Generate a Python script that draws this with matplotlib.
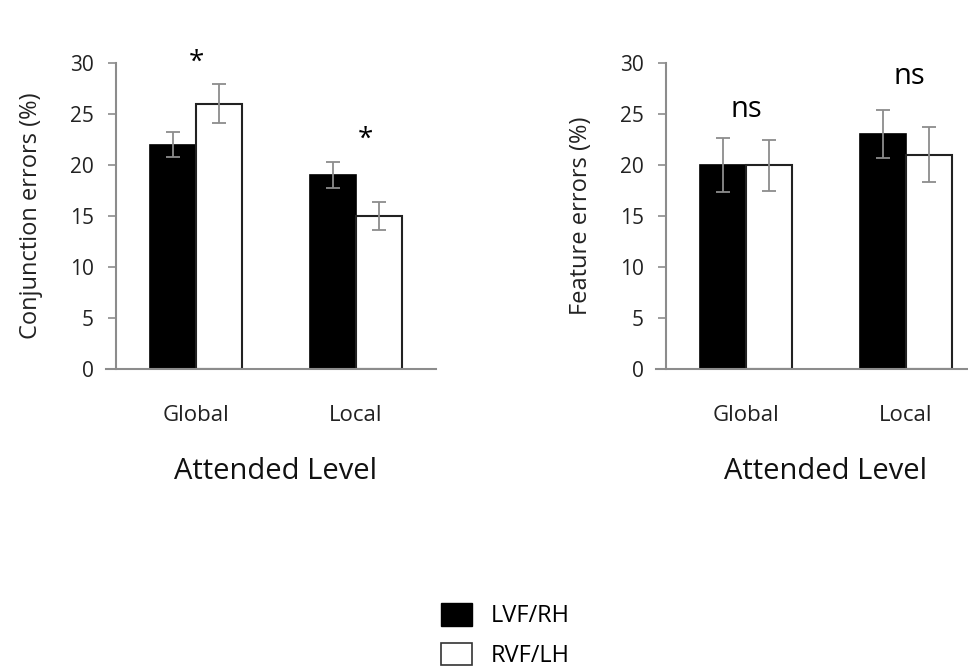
import matplotlib.pyplot as plt
import numpy as np
from matplotlib.patches import Patch

plt.rcParams['font.family'] = ['Open Sans', 'DejaVu Sans']

# data
levels = ['Global', 'Local']
series = ['LVF/RH', 'RVF/LH']

conj_lvf = [22, 19]
conj_rvf = [26, 15]
conj_lvf_err = [1.2, 1.3]
conj_rvf_err = [1.9, 1.4]

feat_lvf = [20, 23]
feat_rvf = [20, 21]
feat_lvf_err = [2.6, 2.35]
feat_rvf_err = [2.5, 2.7]

conj_marks = ['*', '*']
feat_marks = ['ns', 'ns']

W, H = 968, 666
fig = plt.figure(figsize=(W / 100, H / 100), dpi=100)

ax1 = fig.add_axes([116 / W, (H - 369) / H, 320 / W, 306 / H])
ax2 = fig.add_axes([666 / W, (H - 369) / H, 320 / W, 306 / H])

x = np.arange(len(levels))
width = 0.29
grey = '#8c8c8c'


def panel(ax, lvf, rvf, lvf_err, rvf_err, ylabel, marks, mark_y, mark_dx, mark_size):
    ax.bar(x - width / 2, lvf, width, color='black', edgecolor='black', linewidth=1.2)
    ax.bar(x + width / 2, rvf, width, color='white', edgecolor='#222222', linewidth=1.5)
    ax.errorbar(x - width / 2, lvf, yerr=lvf_err, fmt='none', ecolor=grey,
                elinewidth=1.3, capsize=5, capthick=1.3)
    ax.errorbar(x + width / 2, rvf, yerr=rvf_err, fmt='none', ecolor=grey,
                elinewidth=1.3, capsize=5, capthick=1.3)
    ax.set_xlim(-0.5, 1.5)
    ax.set_ylim(0, 30)
    ax.set_yticks(range(0, 31, 5))
    ax.set_xticks(x)
    ax.set_xticklabels(levels, fontsize=16, color='#222222')
    ax.tick_params(axis='x', length=0, pad=26)
    ax.tick_params(axis='y', length=6, width=1.2, color=grey, labelsize=15,
                   pad=10, labelcolor='#222222')
    for s in ['top', 'right']:
        ax.spines[s].set_visible(False)
    for s in ['left', 'bottom']:
        ax.spines[s].set_color(grey)
        ax.spines[s].set_linewidth(1.5)
    ax.spines['bottom'].set_bounds(-0.56, 1.5)
    ax.set_ylabel(ylabel, fontsize=17, labelpad=19, color='#222222')
    ax.set_xlabel('Attended Level', fontsize=21, labelpad=22, color='#111111')
    for i, m in enumerate(marks):
        ax.text(x[i] + mark_dx[i], mark_y[i], m, ha='center', va='center',
                fontsize=mark_size)


panel(ax1, conj_lvf, conj_rvf, conj_lvf_err, conj_rvf_err,
      'Conjunction errors (%)', conj_marks, [30.0, 22.5], [0.0, 0.06], 20)
panel(ax2, feat_lvf, feat_rvf, feat_lvf_err, feat_rvf_err,
      'Feature errors (%)', feat_marks, [25.4, 28.7], [0.0, 0.02], 21)

handles = [Patch(facecolor='black', edgecolor='black'),
           Patch(facecolor='white', edgecolor='#333333', linewidth=1.2)]
fig.legend(handles, series, loc='upper left', bbox_to_anchor=(441 / W, (H - 603) / H),
           frameon=False, fontsize=17, handlelength=1.3, handleheight=1.1,
           labelspacing=0.6, handletextpad=0.8, borderpad=0, borderaxespad=0)

plt.savefig('out.png', dpi=100)
